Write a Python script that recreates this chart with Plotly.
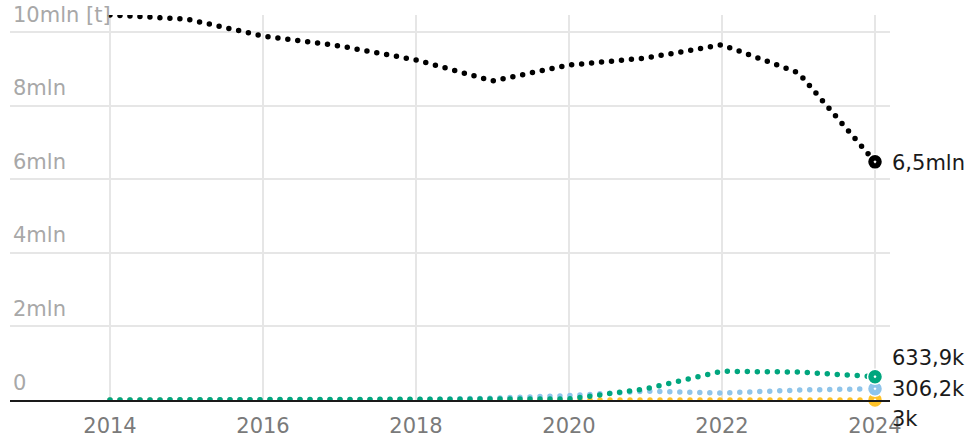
import plotly.graph_objects as go

years = [2014, 2015, 2016, 2017, 2018, 2019, 2020, 2021, 2022, 2023, 2024]

# values in million tonnes
total = [10.46, 10.35, 9.89, 9.62, 9.24, 8.67, 9.10, 9.29, 9.65, 8.89, 6.47]
green = [0.0, 0.0, 0.0, 0.0, 0.0, 0.005, 0.03, 0.30, 0.78, 0.76, 0.6339]
blue = [0.0, 0.0, 0.0, 0.0, 0.01, 0.05, 0.12, 0.24, 0.19, 0.27, 0.3062]
yellow = [0.0, 0.0, 0.0, 0.0, 0.0, 0.0, 0.001, 0.002, 0.002, 0.003, 0.003]

end_labels = ["6,5mln", "633,9k", "306,2k", "3k"]
label_shift = [1, -19, 0, 19]

tick_vals = [0, 2, 4, 6, 8, 10]
tick_text = ["0", "2mln", "4mln", "6mln", "8mln", "10mln [t]"]
x_ticks = [2014, 2016, 2018, 2020, 2022, 2024]

series = [
    (yellow, "#ffc328"),
    (blue, "#8ec4ea"),
    (green, "#00a67e"),
    (total, "#000000"),
]

fig = go.Figure()
for vals, color in series:
    fig.add_trace(go.Scatter(
        x=years, y=vals, mode="lines",
        line=dict(color=color, width=5.5, dash="0px,10px"),
        cliponaxis=False, hoverinfo="skip", showlegend=False,
    ))
    fig.add_trace(go.Scatter(
        x=[years[-1]], y=[vals[-1]], mode="markers",
        marker=dict(color=color, size=15, symbol="circle-dot",
                    line=dict(color="white", width=1.5)),
        cliponaxis=False, hoverinfo="skip", showlegend=False,
    ))

label_order = [total, green, blue, yellow]
for vals, text, dy in zip(label_order, end_labels, label_shift):
    fig.add_annotation(
        x=years[-1], y=vals[-1], text=text, showarrow=False,
        xanchor="left", yanchor="middle", xshift=15, yshift=-dy,
        font=dict(family="DejaVu Sans", size=21, color="#1a1a1a"),
    )

fig.update_layout(
    width=978, height=438,
    margin=dict(l=10, r=88, t=15, b=38),
    paper_bgcolor="white", plot_bgcolor="white",
    font=dict(family="DejaVu Sans"),
    xaxis=dict(
        range=[2012.693, 2024.196], automargin=False,
        tickvals=x_ticks, ticktext=[str(v) for v in x_ticks],
        showgrid=True, gridcolor="#e6e6e6", gridwidth=2,
        zeroline=False, showline=True, linecolor="#1a1a1a", linewidth=2,
        layer="above traces", ticks="", ticklabelstandoff=6,
        tickfont=dict(size=21, color="#7a7a7a"),
    ),
    yaxis=dict(
        range=[0, 10.46], automargin=False,
        tickvals=tick_vals, ticktext=tick_text,
        ticklabelposition="inside top", ticklabeloverflow="allow",
        ticklabelshift=-3,
        showgrid=True, gridcolor="#e6e6e6", gridwidth=2,
        zeroline=False, showline=False, ticks="",
        tickfont=dict(size=21, color="#a8a8a8"),
    ),
)

# round caps turn the zero-length dashes into round dots
round_caps = """
document.querySelectorAll('.scatterlayer .js-line').forEach(function (p) {
    p.style.strokeLinecap = 'round';
});
"""

fig.write_html("out.html", post_script=round_caps)
